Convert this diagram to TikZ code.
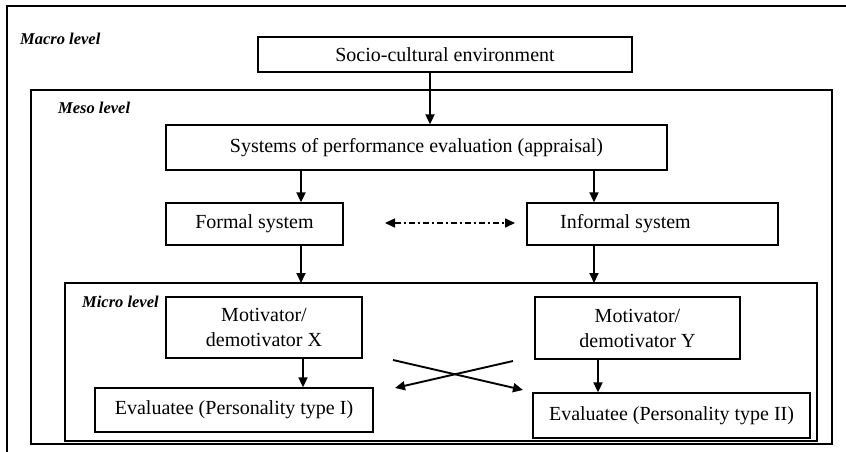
\documentclass[tikz,border=0pt]{standalone}
\usepackage{fontspec}
\setmainfont{Liberation Serif}
\usetikzlibrary{arrows.meta}
\tikzset{
  box/.style={draw, line width=1.3pt, inner sep=0pt, font=\fontsize{20}{25}\selectfont, align=center},
  lvl/.style={anchor=west, inner sep=0pt, font=\fontsize{16.5}{18}\selectfont\bfseries\itshape},
  arr/.style={line width=1.9pt, -{Triangle[length=10pt,width=9pt]}},
  frame/.style={draw, line width=1.9pt},
}
\begin{document}
\begin{tikzpicture}[x=1pt,y=-1pt]
\useasboundingbox (0,0) rectangle (846,452);
% macro frame
\draw[line width=1.9pt] (846,6) -- (7,6) -- (7,452);
\node[lvl] (macrolbl) at (20,39) {Macro level};
% meso frame
\draw[frame] (31,90) rectangle (832,444);
\node[lvl] (mesolbl) at (58,108) {Meso level};
% micro frame
\draw[line width=2.4pt] (65,283) rectangle (817,441);
\node[lvl] (microlbl) at (82,302) {Micro level};
% boxes
\node[box, minimum width=374pt, minimum height=35pt] (socio) at (445,54.5) {Socio-cultural environment};
\node[box, minimum width=501pt, minimum height=45pt] (systems) at (416.5,147.5) {Systems of performance evaluation (appraisal)};
\node[box, minimum width=177pt, minimum height=42pt] (formal) at (254.5,224) {Formal system};
\node[box, minimum width=251pt, minimum height=42pt] (informal) at (652.5,224) {Informal system\hspace*{54pt}};
\node[box, minimum width=196pt, minimum height=61pt] (motx) at (264,327.5) {Motivator/\\demotivator X};
\node[box, minimum width=205pt, minimum height=62pt] (moty) at (637.5,328) {Motivator/\\demotivator Y};
\node[box, minimum width=278pt, minimum height=44pt] (evali) at (234,410) {Evaluatee (Personality type I)};
\node[box, minimum width=277pt, minimum height=45pt] (evalii) at (671.5,415.5) {Evaluatee (Personality type II)};
% helper coordinates
\coordinate (a1) at (430,0);
\coordinate (a2) at (301,0);
\coordinate (a3) at (594,0);
\coordinate (a4) at (303,0);
\coordinate (a5) at (598,0);
\coordinate (microtop) at (0,283);
\coordinate (dl) at (385,223);
\coordinate (dr) at (515,223);
\coordinate (c1s) at (393,360);
\coordinate (c1e) at (523,390);
\coordinate (c2s) at (513,361);
\coordinate (c2e) at (395,388);
% arrows
\draw[arr] (socio.south -| a1) -- (systems.north -| a1);
\draw[arr] (systems.south -| a2) -- (formal.north -| a2);
\draw[arr] (systems.south -| a3) -- (informal.north -| a3);
\draw[arr] (formal.south -| a2) -- (microtop -| a2);
\draw[arr] (informal.south -| a3) -- (microtop -| a3);
\draw[arr] (motx.south -| a4) -- (evali.north -| a4);
\draw[arr] (moty.south -| a5) -- (evalii.north -| a5);
\draw[line width=1.6pt, dash pattern=on 6pt off 3pt on 2pt off 3pt, {Triangle[length=10pt,width=9pt]}-{Triangle[length=10pt,width=9pt]}] (dl) -- (dr);
\draw[arr] (c1s) -- (c1e);
\draw[arr] (c2s) -- (c2e);
\end{tikzpicture}
\end{document}
